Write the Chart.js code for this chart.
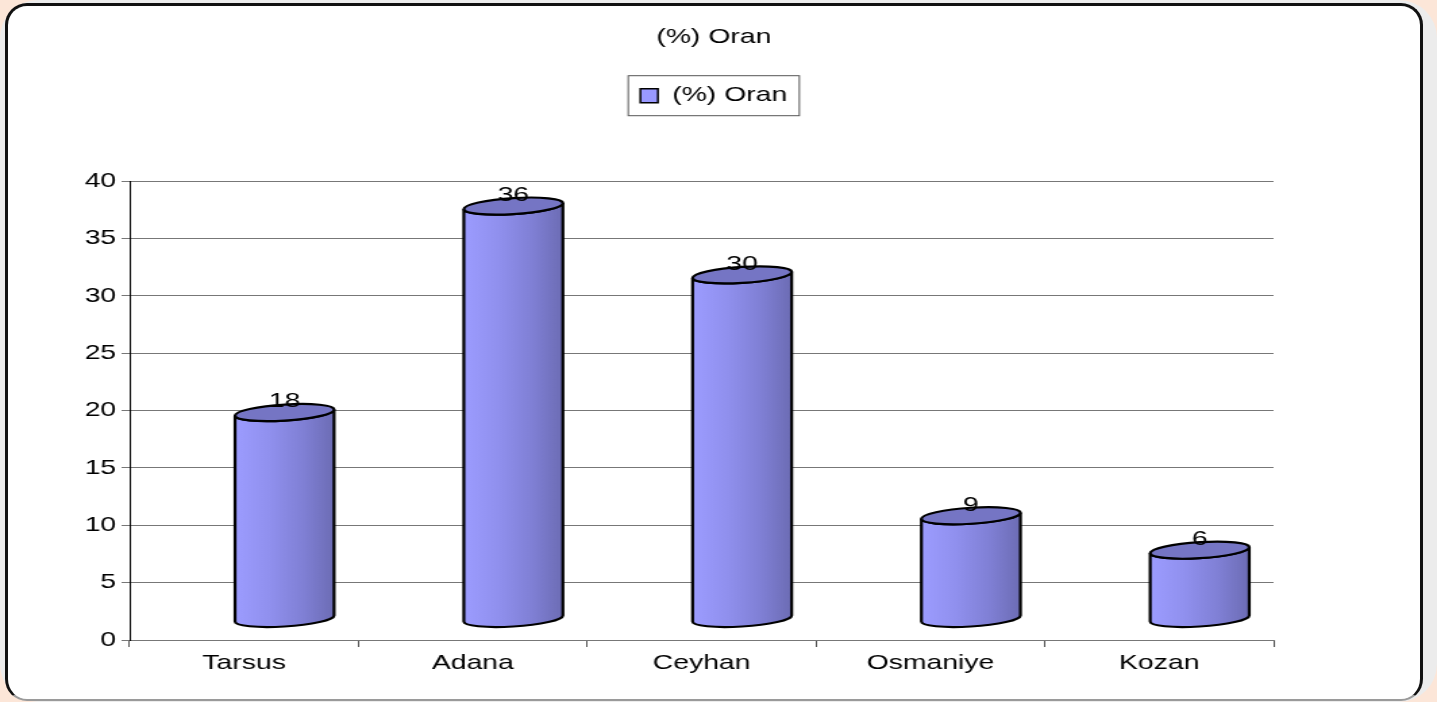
<!DOCTYPE html>
<html>
<head>
<meta charset="utf-8">
<script src="https://cdn.jsdelivr.net/npm/chart.js@4.4.0/dist/chart.umd.min.js"></script>
<style>
  html, body { margin: 0; padding: 0; background: #fce6d8; overflow: hidden; }
  #shade { position: absolute; left: 0; top: 0; width: 1437px; height: 702px; background: #ececec; border-radius: 38px; }
  #frame { position: absolute; left: 5px; top: 3px; width: 1412px; height: 693px; background: #fff;
           border: 3px solid #111; border-bottom: 2px solid #9a9a9a; border-radius: 22px; }
  #chart { position: absolute; left: 0; top: 0; }
</style>
</head>
<body>
<div id="shade"></div>
<div id="frame"></div>
<!-- drawn narrower and stretched sideways, like the wide Excel lettering -->
<canvas id="chart" width="1064" height="702" style="width:1437px;height:702px"></canvas>
<script>
  const categories = ["Tarsus", "Adana", "Ceyhan", "Osmaniye", "Kozan"];
  const oranValues = [18, 36, 30, 9, 6];
  const seriesName = "(%) Oran";
  const yMin = 0;
  const yMax = 40;
  const yStep = 5;

  const FONT = '"Liberation Sans", Arial, sans-serif';
  Chart.defaults.font.family = FONT;
  Chart.defaults.font.size = 21;
  Chart.defaults.color = "#000";

  // 3d offset of the cylinders (logical px)
  const depthX = 30;
  const depthY = 21;

  const cylinders = {
    id: "cylinders",
    beforeDatasetDraw() {
      return false;
    },
    afterDatasetsDraw(chart) {
      const ctx = chart.ctx;
      const meta = chart.getDatasetMeta(0);
      meta.data.forEach((bar, i) => {
        const rx = bar.width / 2;
        const ry = 8;
        const cx = bar.x + depthX;
        const top = bar.y - depthY;
        const h = bar.base - bar.y;

        ctx.save();
        ctx.translate(cx, top);
        ctx.transform(1, -3 / rx, 0, 1, 0, 0);

        const grad = ctx.createLinearGradient(-rx, 0, rx, 0);
        grad.addColorStop(0, "#9c9cff");
        grad.addColorStop(0.35, "#9090ee");
        grad.addColorStop(0.7, "#7f7fd4");
        grad.addColorStop(1, "#6c6cb4");

        ctx.beginPath();
        ctx.moveTo(-rx, 0);
        ctx.lineTo(-rx, h);
        ctx.ellipse(0, h, rx, ry, 0, Math.PI, 0, true);
        ctx.lineTo(rx, 0);
        ctx.ellipse(0, 0, rx, ry, 0, 0, Math.PI, false);
        ctx.closePath();
        ctx.fillStyle = grad;
        ctx.fill();
        ctx.lineWidth = 2.2;
        ctx.strokeStyle = "#000";
        ctx.stroke();

        ctx.beginPath();
        ctx.ellipse(0, 0, rx, ry, 0, 0, Math.PI * 2);
        ctx.fillStyle = "#7575c4";
        ctx.fill();
        ctx.stroke();
        ctx.restore();

        ctx.save();
        ctx.font = "21px " + FONT;
        ctx.fillStyle = "#000";
        ctx.textAlign = "center";
        ctx.textBaseline = "middle";
        ctx.fillText(String(oranValues[i]), cx, top - 11);
        ctx.restore();
      });
    }
  };

  const legendFrame = {
    id: "legendFrame",
    afterDraw(chart) {
      const hb = chart.legend && chart.legend.legendHitBoxes[0];
      if (!hb) return;
      const ctx = chart.ctx;
      ctx.save();
      ctx.strokeStyle = "#555";
      ctx.lineWidth = 1;
      ctx.strokeRect(hb.left - 9, hb.top - 9.5, hb.width + 18, hb.height + 19);
      ctx.restore();
    }
  };

  new Chart(document.getElementById("chart"), {
    type: "bar",
    data: {
      labels: categories,
      datasets: [
        {
          label: seriesName,
          data: oranValues,
          backgroundColor: "#9999ff",
          borderColor: "#000",
          borderWidth: 1.5,
          barPercentage: 0.866,
          categoryPercentage: 0.5,
        },
      ],
    },
    options: {
      responsive: false,
      animation: false,
      layout: { padding: { left: 0, right: 7, top: 0, bottom: 22 } },
      plugins: {
        title: {
          display: true,
          text: seriesName,
          font: { size: 21, weight: "normal" },
          color: "#000",
          padding: { top: 25, bottom: 25 },
        },
        legend: {
          display: true,
          labels: {
            boxWidth: 13,
            boxHeight: 14,
            padding: 10,
            font: { size: 21 },
          },
        },
        tooltip: { enabled: false },
      },
      scales: {
        x: {
          grid: { drawOnChartArea: false, tickLength: 7, color: "#555" },
          border: { color: "#777" },
          ticks: { padding: 4 },
          afterFit(scale) { scale.height = 40; },
        },
        y: {
          min: yMin,
          max: yMax,
          ticks: { stepSize: yStep, padding: 4 },
          grid: { color: "#777", tickLength: 6 },
          border: { color: "#000" },
          afterFit(scale) { scale.width = 96; },
        },
        xTop: {
          axis: "x",
          type: "category",
          position: "top",
          grid: { display: false },
          ticks: { display: false },
          border: { display: false },
          afterFit(scale) { scale.height = 65; },
        },
        yRight: {
          axis: "y",
          type: "linear",
          position: "right",
          grid: { display: false },
          ticks: { display: false },
          border: { display: false },
          afterFit(scale) { scale.width = 114; },
        },
      },
    },
    plugins: [cylinders, legendFrame],
  });
</script>
</body>
</html>
